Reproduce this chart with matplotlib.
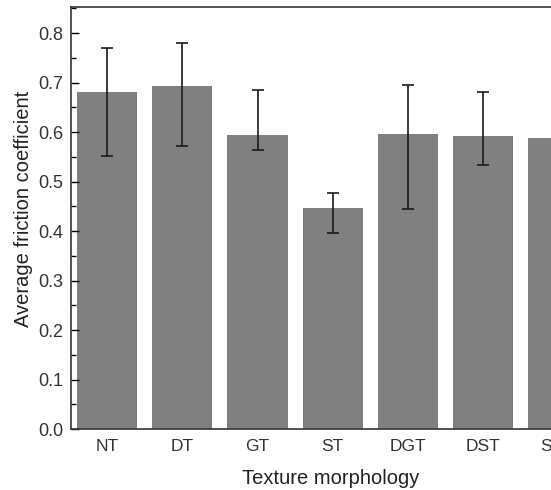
import numpy as np
import matplotlib
matplotlib.use('Agg')
import matplotlib.pyplot as plt
from matplotlib.ticker import MultipleLocator

plt.rcParams['font.family'] = ['Liberation Sans', 'DejaVu Sans']

# data
labels = ['NT', 'DT', 'GT', 'ST', 'DGT', 'DST', 'SGT']
means = [0.681, 0.693, 0.595, 0.446, 0.596, 0.593, 0.588]
upper = [0.770, 0.781, 0.685, 0.477, 0.695, 0.682, 0.648]
lower = [0.551, 0.572, 0.564, 0.397, 0.444, 0.533, 0.519]

err_lo = np.array(means) - np.array(lower)
err_hi = np.array(upper) - np.array(means)

fig = plt.figure(figsize=(5.51, 4.90), dpi=100)
# axes run past the right edge, like the cropped original
ax = fig.add_axes([70.5/551, 61/490, 525/551, 422/490])

x = np.arange(len(labels))
ax.bar(x, means, width=0.8, color='#808080', edgecolor='none')
ax.errorbar(x, means, yerr=[err_lo, err_hi], fmt='none', ecolor='#1a1a1a',
            elinewidth=1.2, capsize=4, capthick=1.2)

ax.set_xlim(-0.49, 6.5)
ax.set_ylim(0, 0.853)
ax.yaxis.set_minor_locator(MultipleLocator(0.05))
ax.set_yticks(np.arange(0, 0.81, 0.1))
ax.set_yticklabels(['%.1f' % v for v in np.arange(0, 0.81, 0.1)])
ax.set_xticks(x)
ax.set_xticklabels(labels)

ax.tick_params(axis='y', which='major', direction='in', length=6, width=1, labelsize=13, pad=5)
ax.tick_params(axis='y', which='minor', direction='in', length=3.5, width=1)
ax.tick_params(axis='x', length=0, labelsize=12.5, pad=7)
for lab in ax.get_xticklabels() + ax.get_yticklabels():
    lab.set_color('#333333')

for s in ax.spines.values():
    s.set_linewidth(1.2)
    s.set_color('#333333')

ax.set_ylabel('Average friction coefficient', fontsize=14.5, color='#222222')
ax.yaxis.set_label_coords(-0.072, 0.521)
ax.set_xlabel('Texture morphology', fontsize=14.5, color='#222222')
ax.xaxis.set_label_coords((331 - 70.5) / 525, -0.095)

fig.savefig('out.png', dpi=100)
